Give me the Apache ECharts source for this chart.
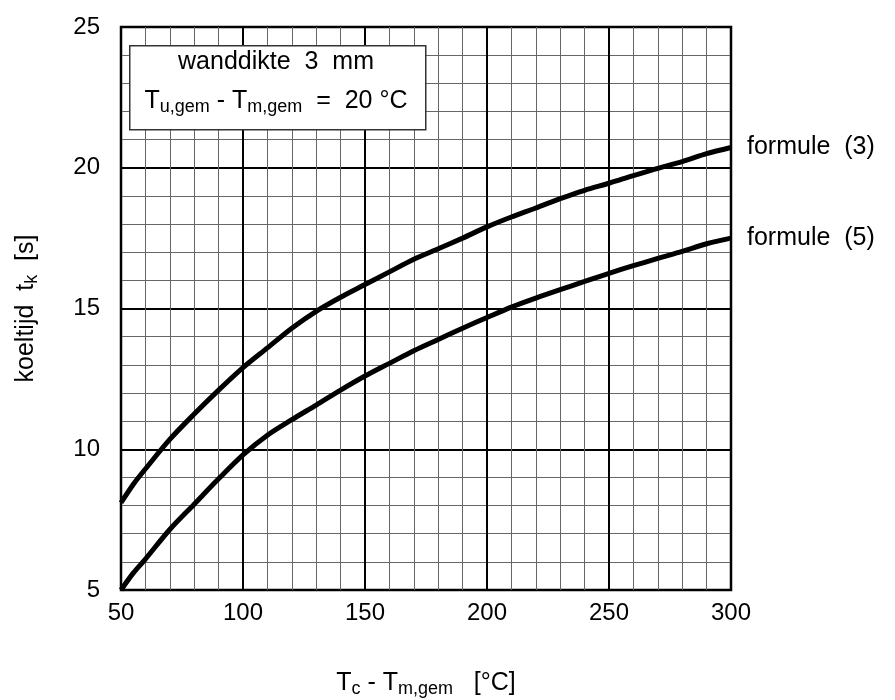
<!DOCTYPE html>
<html>
<head>
<meta charset="utf-8">
<script src="https://cdn.jsdelivr.net/npm/echarts@6/dist/echarts.min.js"></script>
<style>
  html, body { margin: 0; padding: 0; background: #fff; }
  #main { width: 895px; height: 700px; }
</style>
</head>
<body>
<div id="main"></div>
<script>
// temperatuurverschil Tc - Tm,gem [°C]
var tempVerschil = [50, 55, 60, 70, 80, 90, 100, 110, 120, 130, 140, 150, 160, 170, 180, 190, 200, 210, 220, 230, 240, 250, 260, 270, 280, 290, 300];
// koeltijd volgens formule (3)
var formule3 = [8.1, 8.75, 9.3, 10.35, 11.25, 12.1, 12.9, 13.6, 14.3, 14.9, 15.4, 15.85, 16.3, 16.75, 17.12, 17.5, 17.9, 18.25, 18.57, 18.9, 19.2, 19.45, 19.72, 19.98, 20.22, 20.5, 20.72];
// koeltijd volgens formule (5)
var formule5 = [5.0, 5.6, 6.1, 7.15, 8.05, 8.95, 9.8, 10.5, 11.05, 11.57, 12.1, 12.6, 13.05, 13.5, 13.9, 14.3, 14.68, 15.05, 15.37, 15.67, 15.96, 16.25, 16.52, 16.78, 17.03, 17.3, 17.5];
var serieNamen = ['formule  (3)', 'formule  (5)'];

function paren(xs, ys) {
    var out = [];
    for (var i = 0; i < xs.length; i++) {
        out.push([xs[i], ys[i]]);
    }
    return out;
}

var fontNaam = '"Liberation Sans", Arial, sans-serif';
var chart = echarts.init(document.getElementById('main'));

function lijn(naam, data) {
    return {
        name: naam,
        type: 'line',
        data: data,
        showSymbol: false,
        smooth: 0.3,
        lineStyle: { color: '#000', width: 5 },
        endLabel: {
            show: true,
            formatter: '{a}',
            distance: 16,
            color: '#000',
            fontSize: 25,
            fontFamily: fontNaam
        },
        z: 5
    };
}

var subRich = {
    n: { fontSize: 25, fontFamily: fontNaam, color: '#000', lineHeight: 30 },
    s: { fontSize: 18, fontFamily: fontNaam, color: '#000', verticalAlign: 'bottom', padding: [9, 0, 0, 0] }
};

var option = {
    animation: false,
    backgroundColor: '#fff',
    grid: {
        left: 121, right: 164, top: 27, bottom: 110,
        outerBoundsMode: 'none',
        containLabel: false,
        show: true, borderColor: '#000', borderWidth: 2.5
    },
    xAxis: {
        type: 'value',
        min: 50, max: 300, interval: 50,
        axisLine: { show: false },
        axisTick: { show: false },
        axisLabel: { color: '#000', fontSize: 24, fontFamily: fontNaam, margin: 11 },
        splitLine: { show: true, lineStyle: { color: '#000', width: 2 } },
        minorTick: { show: false, splitNumber: 5 },
        minorSplitLine: { show: true, lineStyle: { color: '#666', width: 1 } },
        name: '{n|T}{s|c}{n| - T}{s|m,gem}{n|   [°C]}',
        nameLocation: 'middle',
        nameGap: 78,
        nameTextStyle: { rich: subRich }
    },
    yAxis: {
        type: 'value',
        min: 5, max: 25, interval: 5,
        axisLine: { show: false },
        axisTick: { show: false },
        axisLabel: { color: '#000', fontSize: 24, fontFamily: fontNaam, margin: 21 },
        splitLine: { show: true, lineStyle: { color: '#000', width: 2 } },
        minorTick: { show: false, splitNumber: 5 },
        minorSplitLine: { show: true, lineStyle: { color: '#666', width: 1 } },
        name: '{n|koeltijd  t}{s|k}{n|  [s]}',
        nameLocation: 'middle',
        nameRotate: 90,
        nameGap: 80,
        nameTextStyle: { rich: subRich }
    },
    graphic: [
        {
            type: 'rect',
            left: 129, top: 45,
            shape: { width: 296, height: 84 },
            style: { fill: '#fff', stroke: '#333', lineWidth: 1.5 },
            z: 10
        },
        {
            type: 'text',
            x: 276, y: 62,
            style: {
                text: 'wanddikte  3  mm',
                fill: '#000',
                font: '25px ' + fontNaam,
                align: 'center',
                verticalAlign: 'middle'
            },
            z: 11
        },
        {
            type: 'text',
            x: 276, y: 101,
            style: {
                text: '{n|T}{s|u,gem}{n| - T}{s|m,gem}{n|  =  20 °C}',
                align: 'center',
                verticalAlign: 'middle',
                rich: {
                    n: { fontSize: 25, fontFamily: fontNaam, fill: '#000', lineHeight: 30 },
                    s: { fontSize: 18, fontFamily: fontNaam, fill: '#000', verticalAlign: 'bottom', padding: [9, 0, 0, 0] }
                }
            },
            z: 11
        }
    ],
    series: [
        lijn(serieNamen[0], paren(tempVerschil, formule3)),
        lijn(serieNamen[1], paren(tempVerschil, formule5))
    ]
};
chart.setOption(option);
</script>
</body>
</html>
